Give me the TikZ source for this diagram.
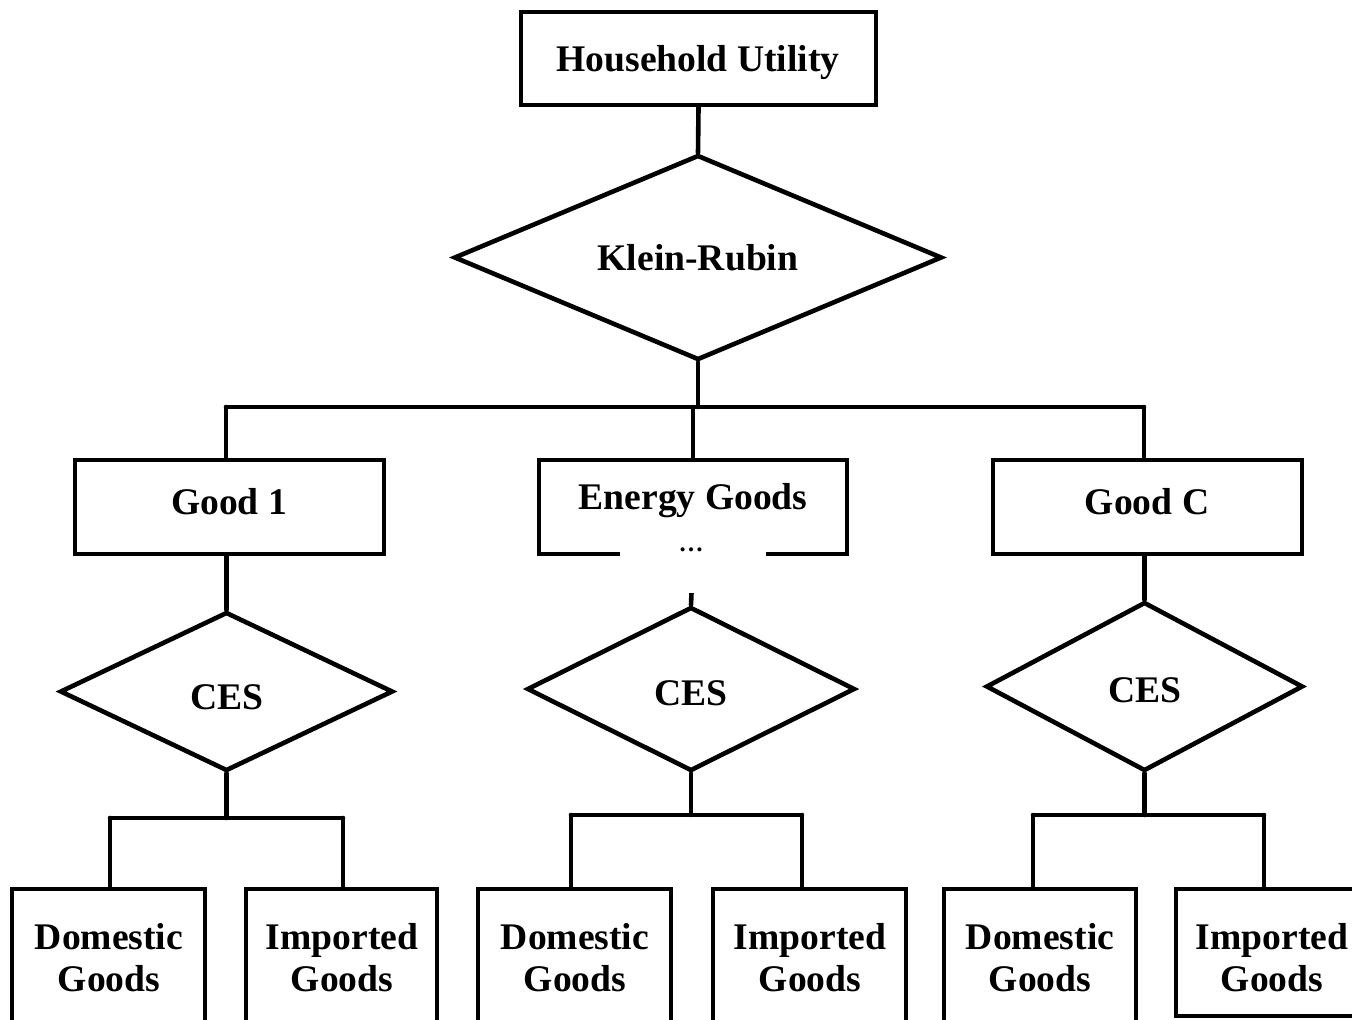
\documentclass[tikz,border=0pt]{standalone}
\usepackage{fontspec}
\setmainfont{Liberation Serif}
\usetikzlibrary{shapes.geometric}
\begin{document}
\begin{tikzpicture}[x=0.5pt,y=-0.5pt,
  txt/.style={font=\fontsize{18.8}{21}\selectfont\bfseries,anchor=base,align=center,inner sep=0pt},
  box/.style={draw,line width=2.3pt,inner sep=0pt},
  dia/.style={draw,diamond,line width=2.3pt,inner sep=0pt},
  ln/.style={line width=2.3pt,line cap=round}]
\useasboundingbox (0,0) rectangle (1352,1019);
\clip (0,0) rectangle (1352,1019);
% top
\node[box,minimum width=177.5pt,minimum height=46.5pt] (hu) at (698.5,58.5) {};
\node[txt] (hut) at (698,71) {Household Utility};
\node[dia,aspect=2.38,minimum width=244pt,minimum height=102.5pt] (kr) at (698,257.5) {};
\node[txt] (krt) at (698,270) {Klein-Rubin};
% level 2
\node[box,minimum width=154.5pt,minimum height=47pt] (g1) at (229.5,507) {};
\node[txt] (g1t) at (229,514) {Good 1};
\node[box,minimum width=154pt,minimum height=47pt] (eg) at (693,507) {};
\node[txt] (egt) at (693,509) {Energy Goods};
\node[box,minimum width=154.5pt,minimum height=47pt] (gc) at (1147.5,507) {};
\node[txt] (gct) at (1147,514) {Good C};
% CES
\node[dia,aspect=2.09,minimum width=166.5pt,minimum height=79.5pt] (c1) at (226.5,691.5) {};
\node[txt] (c1t) at (227,709) {CES};
\node[dia,aspect=2,minimum width=164pt,minimum height=82pt] (c2) at (691,689) {};
\node[txt] (c2t) at (691,705) {CES};
\node[dia,aspect=1.88,minimum width=158.5pt,minimum height=84.5pt] (c3) at (1144.5,686.5) {};
\node[txt] (c3t) at (1145,702) {CES};
% bottom
\node[box,minimum width=96.5pt,minimum height=70.5pt] (d1) at (108.5,959.5) {};
\node[txt] (d1t) at (109,991) {Domestic\\Goods};
\node[box,minimum width=95.5pt,minimum height=70.5pt] (i1) at (341.5,959.5) {};
\node[txt] (i1t) at (342,991) {Imported\\Goods};
\node[box,minimum width=96.5pt,minimum height=70.5pt] (d2) at (574.5,959.5) {};
\node[txt] (d2t) at (575,991) {Domestic\\Goods};
\node[box,minimum width=96.5pt,minimum height=70.5pt] (i2) at (809.5,959.5) {};
\node[txt] (i2t) at (810,991) {Imported\\Goods};
\node[box,minimum width=96pt,minimum height=70.5pt] (d3) at (1040,959.5) {};
\node[txt] (d3t) at (1040,991) {Domestic\\Goods};
\node[box,minimum width=96.5pt,minimum height=63.5pt] (i3) at (1272.5,952.5) {};
\node[txt] (i3t) at (1272,991) {Imported\\Goods};
% bar coordinates
\coordinate (bl) at (226,407);
\coordinate (br) at (1144,407);
\coordinate (b1l) at (110,818);
\coordinate (b1r) at (343,818);
\coordinate (b2l) at (571,815);
\coordinate (b2r) at (802,815);
\coordinate (b3l) at (1033,815);
\coordinate (b3r) at (1264,815);
% connectors
\draw[ln] (hu.south) -- (kr.north);
\draw[ln] (kr.south) -- (kr.south |- bl);
\draw[ln] (bl) -- (br);
\draw[ln] (bl) -- (bl |- g1.north);
\draw[ln] (br) -- (br |- gc.north);
\draw[ln] (eg.north) -- (eg.north |- bl);
\draw[ln] (c1.north |- g1.south) -- (c1.north);
\draw[ln] (c3.north |- gc.south) -- (c3.north);
\draw[ln] (eg.south) -- (c2.north);
\draw[ln] (c1.south) -- (c1.south |- b1l);
\draw[ln] (c2.south) -- (c2.south |- b2l);
\draw[ln] (c3.south) -- (c3.south |- b3l);
\draw[ln] (b1l) -- (b1r);
\draw[ln] (b2l) -- (b2r);
\draw[ln] (b3l) -- (b3r);
\draw[ln] (b1l) -- (b1l |- d1.north);
\draw[ln] (b1r) -- (b1r |- i1.north);
\draw[ln] (b2l) -- (b2l |- d2.north);
\draw[ln] (b2r) -- (b2r |- i2.north);
\draw[ln] (b3l) -- (b3l |- d3.north);
\draw[ln] (b3r) -- (b3r |- i3.north);
% gap in energy box
\node[fill=white,minimum width=73pt,minimum height=27pt,inner sep=0pt] (gap) at (693,566) {};
\node[anchor=base,font=\fontsize{12.5}{14}\selectfont\bfseries] (dots) at (691,551) {\dots};
\end{tikzpicture}
\end{document}
